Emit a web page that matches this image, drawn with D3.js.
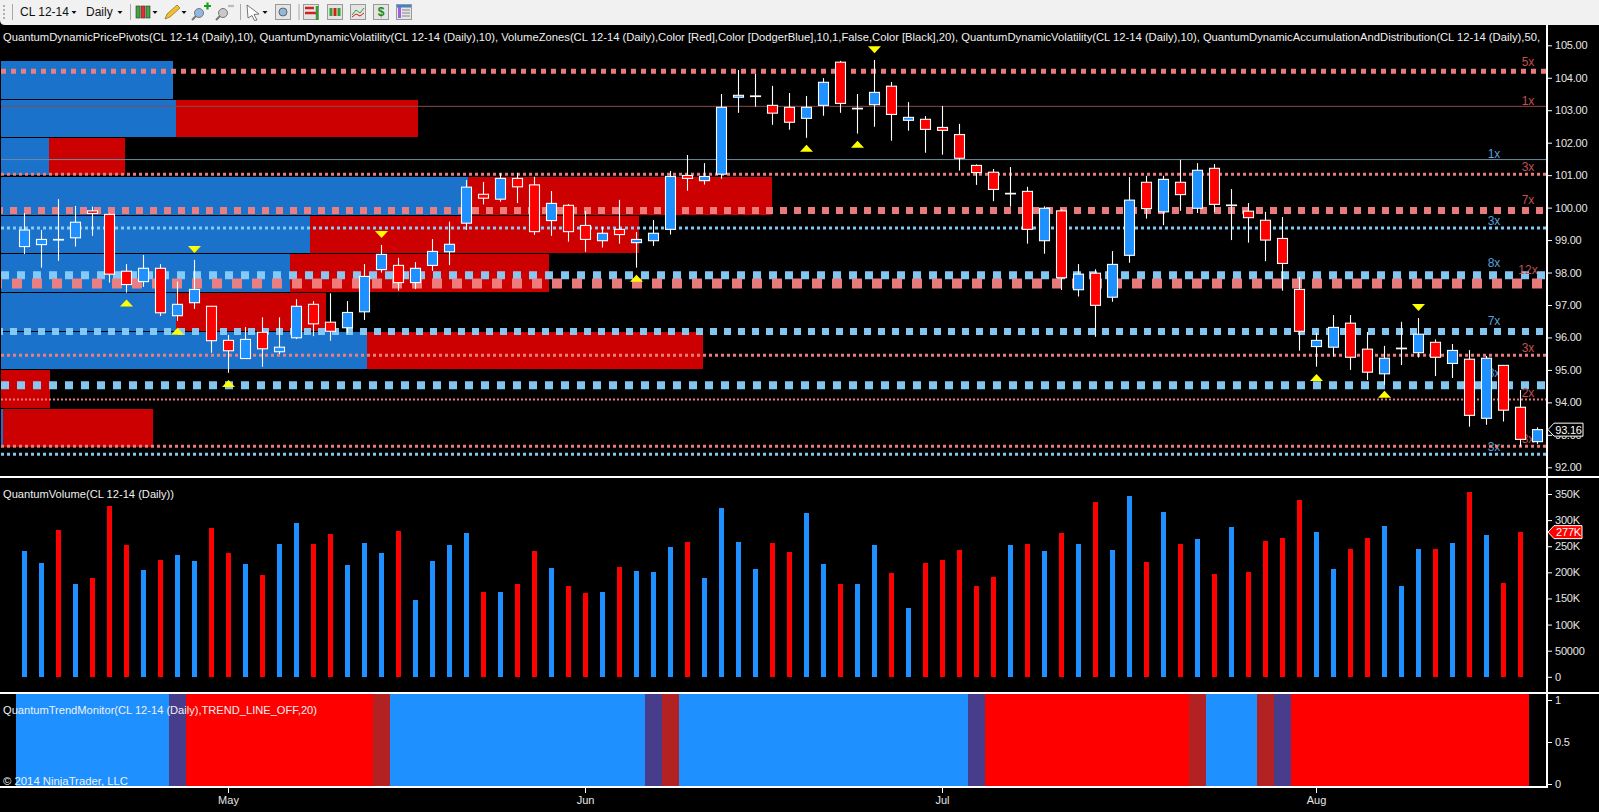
<!DOCTYPE html>
<html><head><meta charset="utf-8">
<script src="https://cdn.jsdelivr.net/npm/d3@7/dist/d3.min.js"></script>
<style>html,body{margin:0;padding:0;background:#000;overflow:hidden}svg{display:block}
text{font-family:"Liberation Sans",Arial,sans-serif}</style></head><body>
<svg id="c" width="1599" height="812"></svg>
<script>
// ---------- data ----------
const opens=[98.80,98.86,99.02,99.07,99.90,99.79,98.04,97.72,98.13,96.67,97.07,96.96,95.91,95.35,96.16,95.56,95.99,97.02,96.47,96.30,96.79,98.09,98.22,97.69,98.22,98.64,99.52,100.41,100.26,100.90,100.70,99.60,100.07,99.45,98.98,99.33,98.92,98.98,99.33,100.99,100.83,101.03,103.40,103.44,103.15,103.09,102.75,103.15,104.48,103.06,103.17,103.74,102.69,102.72,102.47,102.25,101.30,101.09,100.44,100.50,98.98,99.90,97.47,97.98,97.24,98.53,100.78,99.87,100.78,99.98,101.21,100.08,99.89,99.61,99.05,97.48,95.72,95.70,96.44,95.64,94.88,95.67,95.53,95.85,95.20,95.33,93.51,95.14,93.85,92.79];
const closes=[99.31,99.02,99.02,99.55,99.82,97.95,97.63,98.13,96.76,97.02,97.48,95.90,95.59,95.94,95.65,95.70,96.96,96.42,96.19,96.77,97.88,98.56,97.69,98.13,98.65,98.87,100.63,100.29,100.90,100.64,99.26,100.13,99.26,99.02,99.21,99.17,99.02,99.21,100.96,100.90,100.96,103.09,103.46,103.44,102.91,102.63,103.09,103.86,103.21,103.06,103.55,102.87,102.78,102.41,102.38,101.52,101.08,100.56,100.44,99.33,99.98,97.84,97.95,96.99,98.25,100.23,99.97,100.87,100.40,101.15,100.10,100.08,99.69,99.00,98.28,96.19,95.91,96.31,95.39,94.93,95.36,95.67,96.10,95.39,95.60,93.60,95.36,93.76,92.86,93.16];
const highs=[99.83,99.31,100.26,100.05,100.03,99.82,98.26,98.54,98.26,97.72,98.39,96.97,96.08,96.32,96.62,96.62,97.18,97.12,97.36,97.12,98.26,98.85,98.45,98.32,99.03,99.57,100.85,100.79,101.06,101.07,100.95,100.51,100.11,99.90,99.41,100.24,99.25,99.62,101.13,101.62,101.37,103.50,104.24,104.12,103.75,103.53,103.44,103.99,104.52,103.50,104.55,103.87,103.25,102.82,103.13,102.58,101.33,101.19,101.25,100.64,100.04,99.95,98.26,98.10,98.66,100.94,100.98,100.98,101.47,101.37,101.34,100.57,100.14,99.87,99.71,97.86,96.13,96.69,96.69,96.17,95.74,96.48,96.60,95.94,95.80,95.61,95.43,95.15,94.38,93.23];
const lows=[98.57,98.15,98.36,98.80,99.13,97.69,97.38,97.56,96.66,96.51,96.88,95.53,94.91,95.35,95.10,95.49,95.95,96.04,95.90,96.12,96.54,98.00,97.44,97.49,98.05,98.23,99.31,100.10,100.18,100.14,99.16,99.13,98.95,98.64,98.77,98.89,98.15,98.82,99.17,100.52,100.71,100.89,102.92,103.11,102.55,102.40,102.15,102.83,102.92,102.28,102.49,102.06,102.37,101.69,101.63,101.14,100.70,100.20,100.03,98.89,98.58,97.46,97.26,96.02,97.10,98.30,99.66,99.46,99.90,99.83,99.87,99.00,98.92,98.35,97.44,95.59,95.10,95.41,95.00,94.69,94.54,95.15,95.38,94.81,94.75,93.25,93.31,93.41,92.64,92.72];
const volumes=[240,218,281,178,190,327,253,205,224,234,222,285,237,216,194,255,295,255,274,215,257,237,279,148,222,253,276,163,163,178,241,209,173,161,163,211,203,201,249,258,190,323,258,207,257,239,314,216,178,178,253,199,132,218,224,243,173,192,253,255,241,276,255,335,243,346,220,316,255,264,197,287,201,260,266,339,278,207,245,266,289,173,245,245,257,354,272,180,277];
const volumeSide=["B","B","R","B","R","R","R","B","R","B","B","R","R","B","R","B","B","R","R","B","B","B","R","B","B","B","B","R","B","R","R","B","R","R","B","R","B","B","B","R","B","B","B","B","R","R","B","B","R","B","B","R","B","R","R","R","R","R","B","R","B","R","B","R","B","B","R","B","R","B","R","B","R","R","R","R","B","B","R","R","B","B","B","R","B","R","B","R","R"];
// volume zones: price band and cumulative volume of each side
const zoneTop=[104.52,103.32,102.15,100.95,99.74,98.57,97.37,96.16,94.99,93.79];
const zoneBottom=[103.35,102.17,100.99,99.77,98.60,97.39,96.20,95.03,93.83,92.62];
const zoneBlue=[172,175,48,467,309,289,175,366,0,2];
const zoneRed=[0,417,124,771,638,548,325,702,49,152];
// dynamic volatility levels (multiple = number of bars at the level)
const pinkPrices=[104.20,103.12,101.03,99.91,97.66,95.45,94.09,92.65];
const pinkMultiples=[5,1,3,7,12,3,2,3];
const bluePrices=[101.48,99.37,97.92,96.18,94.53,92.40];
const blueMultiples=[1,3,8,7,8,3];
// pivots
const pivotDownIdx=[10,21,50,82], pivotDownPrice=[98.71,99.17,104.86,96.92];
const pivotUpIdx=[6,9,12,36,46,49,76,80], pivotUpPrice=[97.06,96.19,94.58,97.82,101.83,101.95,94.77,94.25];
// trend monitor runs
const trendStates=["up","upEnd","down","downEnd","up","upEnd","downEnd","up","upEnd","down","downEnd","up","downEnd","upEnd","down"];
const trendLengths=[9,1,11,1,15,1,1,17,1,12,1,3,1,1,14];
const priceTicks=[105,104,103,102,101,100,99,98,97,96,95,94,93,92];
const volumeTicks=[0,50,100,150,200,250,300,350];
const trendTicks=[0,0.5,1];
const monthNames=["May","Jun","Jul","Aug"], monthIdx=[12,33,54,76];
const lastPrice=93.16, lastVolume=277;

// ---------- scales ----------
const BLUE="#1E90FF",RED="#FF0000",AXIS=1547;
const svg=d3.select("#c");
const x=d3.scaleLinear([0,88],[24.5,1520.5]);
const yP=d3.scaleLinear([92,105],[467.3,45.3]);
const yV=d3.scaleLinear([0,350],[676.8,494]);
const yT=d3.scaleLinear([0,1],[784,700]);
const xZone=d3.scaleLinear([0,1000],[1,1001]);

// ---------- main panel ----------
const g=svg.append("g");
const zones=zoneTop.map((t,i)=>({t,b:zoneBottom[i],blue:zoneBlue[i],red:zoneRed[i]}));
g.append("g").selectAll("rect").data(zones.filter(z=>z.red>0)).join("rect")
 .attr("x",xZone(0)).attr("width",d=>xZone(d.red)-xZone(0)).attr("y",d=>yP(d.t)).attr("height",d=>yP(d.b)-yP(d.t)).attr("fill","#CC0000").attr("shape-rendering","crispEdges");
g.append("g").selectAll("rect").data(zones.filter(z=>z.blue>0)).join("rect")
 .attr("x",xZone(0)).attr("width",d=>xZone(d.blue)-xZone(0)).attr("y",d=>yP(d.t)).attr("height",d=>yP(d.b)-yP(d.t)).attr("fill","#1A72CB").attr("shape-rendering","crispEdges");

const dashPhase={7:5,12:9};
function levels(prices,mults,color,thin,labelColor,labelX){
  const L=prices.map((p,i)=>({p,m:mults[i]}));
  const gl=g.append("g");
  gl.selectAll("line").data(L).join("line").attr("x1",1).attr("x2",AXIS)
    .attr("y1",d=>yP(d.p)).attr("y2",d=>yP(d.p))
    .attr("stroke",d=>d.m===1?thin:color)
    .attr("stroke-width",d=>d.m===1?1:Math.min(d.m,10))
    .attr("stroke-opacity",d=>d.m===1?1:0.96)
    .attr("stroke-dashoffset",d=>dashPhase[d.m]||0)
    .attr("stroke-dasharray",d=>{if(d.m===1)return null;const s=Math.min(d.m,10);return s+" "+s;});
  gl.selectAll("text").data(L).join("text").attr("x",labelX).attr("y",d=>yP(d.p)-(d.m===1?5.5:(4+Math.min(d.m,10))))
    .attr("fill",labelColor).attr("font-size",12).attr("text-anchor","middle").attr("dominant-baseline","central")
    .text(d=>d.m+"x");
}
levels(bluePrices,blueMultiples,"#87CEFA","#6A8DA3","#5AA0DC",1494);
levels(pinkPrices,pinkMultiples,"#F08080","#8E4A4A","#C25050",1528);

// candles
const candles=opens.map((o,i)=>({i,o,c:closes[i],h:highs[i],l:lows[i]}));
const cg=g.append("g");
cg.selectAll("line").data(candles).join("line")
  .attr("x1",d=>x(d.i)).attr("x2",d=>x(d.i)).attr("y1",d=>yP(d.h)).attr("y2",d=>yP(d.l))
  .attr("stroke","#fff").attr("stroke-width",1.1);
cg.selectAll("rect").data(candles).join("rect")
  .attr("x",d=>x(d.i)-5).attr("width",10)
  .attr("y",d=>yP(Math.max(d.o,d.c))).attr("height",d=>Math.max(Math.abs(yP(d.o)-yP(d.c)),0.6))
  .attr("fill",d=>d.c>d.o?BLUE:d.c<d.o?RED:"#fff").attr("stroke","#fff").attr("stroke-width",1.1);

// pivots
const tri=(i,p,up)=>{const X=x(i),Y=yP(p);return up?`M${X-6.5},${Y+3.5}L${X},${Y-3.5}L${X+6.5},${Y+3.5}Z`:`M${X-6.5},${Y-3.5}L${X},${Y+3.5}L${X+6.5},${Y-3.5}Z`;};
g.append("g").selectAll("path").data(pivotUpIdx.map((v,k)=>tri(v,pivotUpPrice[k],true)).concat(pivotDownIdx.map((v,k)=>tri(v,pivotDownPrice[k],false))))
 .join("path").attr("d",d=>d).attr("fill","#FFFF00");

// price axis
const axStyle=(sel)=>{sel.select(".domain").remove();sel.selectAll("line").attr("stroke","#fff");sel.selectAll("text").attr("fill","#e6e6e6").attr("font-size",11).attr("letter-spacing","-0.2").attr("font-family",'"Liberation Sans",Arial,sans-serif');};
svg.append("g").attr("transform",`translate(${AXIS},0)`).call(d3.axisRight(yP).tickValues(priceTicks).tickSize(5).tickPadding(3).tickFormat(d3.format(".2f"))).call(axStyle);

// ---------- volume panel ----------
svg.append("g").selectAll("rect").data(volumes).join("rect")
  .attr("x",(d,i)=>x(i)-2.5).attr("width",5).attr("y",d=>yV(d)).attr("height",d=>yV(0)-yV(d))
  .attr("fill",(d,i)=>volumeSide[i]==="B"?BLUE:RED).attr("shape-rendering","crispEdges");
svg.append("g").attr("transform",`translate(${AXIS},0)`).call(d3.axisRight(yV).tickValues(volumeTicks).tickSize(5).tickPadding(3).tickFormat(d=>d===0?"0":d===50?"50000":d+"K")).call(axStyle);

// ---------- trend panel ----------
const trendColors={up:BLUE,down:RED,upEnd:"#483D8B",downEnd:"#B22222"};
const runs=[];let pos=0;trendStates.forEach((s,k)=>{runs.push({s,a:pos,n:trendLengths[k]});pos+=trendLengths[k];});
const step=x(1)-x(0);
svg.append("g").selectAll("rect").data(runs).join("rect")
  .attr("x",d=>x(d.a)-step/2).attr("width",d=>d.n*step).attr("y",yT(1)-7).attr("height",yT(0)-yT(1)+9)
  .attr("fill",d=>trendColors[d.s]).attr("shape-rendering","crispEdges");
svg.append("g").attr("transform",`translate(${AXIS},0)`).call(d3.axisRight(yT).tickValues(trendTicks).tickSize(5).tickPadding(3).tickFormat(d=>d)).call(axStyle);

// panel rules
const rule=(x1,y1,x2,y2,w)=>svg.append("line").attr("x1",x1).attr("y1",y1).attr("x2",x2).attr("y2",y2).attr("stroke","#fff").attr("stroke-width",w).attr("shape-rendering","crispEdges");
rule(0,476.5,1599,476.5,2);rule(0,692.5,1599,692.5,2);rule(0,787,AXIS,787,2);rule(AXIS,25,AXIS,788,2);

// month axis
const mg=svg.append("g").selectAll("g").data(monthNames).join("g").attr("transform",(d,i)=>`translate(${x(monthIdx[i])},787)`);
mg.append("line").attr("y2",6).attr("stroke","#fff");
mg.append("text").attr("y",13).attr("text-anchor","middle").attr("dominant-baseline","central").attr("fill","#e6e6e6").attr("font-size",11).text(d=>d);

// titles
const label=(t,X,Y,s,len)=>{const e=svg.append("text").attr("x",X).attr("y",Y).attr("fill","#f0f0f0").attr("font-size",s).attr("dominant-baseline","central").text(t);if(len)e.attr("textLength",len).attr("lengthAdjust","spacingAndGlyphs");return e;};
label("QuantumDynamicPricePivots(CL 12-14 (Daily),10), QuantumDynamicVolatility(CL 12-14 (Daily),10), VolumeZones(CL 12-14 (Daily),Color [Red],Color [DodgerBlue],10,1,False,Color [Black],20), QuantumDynamicVolatility(CL 12-14 (Daily),10), QuantumDynamicAccumulationAndDistribution(CL 12-14 (Daily),50,",3,37,11,1537);
label("QuantumVolume(CL 12-14 (Daily))",3,494,11,171);
label("QuantumTrendMonitor(CL 12-14 (Daily),TREND_LINE_OFF,20)",3,710,11,314);
label("© 2014 NinjaTrader, LLC",3,781,11,125);

// last value callouts
function callout(v,scale,fill,txt,W){const Y=scale(v);
 svg.append("path").attr("d",`M${AXIS+1},${Y}L${AXIS+7},${Y-6.5}H${AXIS+W}V${Y+6.5}H${AXIS+7}Z`).attr("fill",fill).attr("stroke","#fff").attr("stroke-width",1);
 svg.append("text").attr("x",AXIS+21.5).attr("y",Y).attr("fill","#fff").attr("font-size",11).attr("letter-spacing","-0.2").attr("text-anchor","middle").attr("dominant-baseline","central").text(txt);}
callout(lastPrice,yP,"#000",d3.format(".2f")(lastPrice),36);
callout(lastVolume,yV,RED,lastVolume+"K",35);

// ---------- toolbar ----------
const tb=svg.append("g");
tb.append("path").attr("d","M0,0H1599V25H5Q0,25 0,20Z").attr("fill","#F1F1F1");
[5,9,13,17].forEach(Y=>tb.append("rect").attr("x",3).attr("y",Y).attr("width",2).attr("height",2).attr("fill","#B0B0B0"));
[12.5,130.5,240.5,299].forEach(X=>tb.append("line").attr("x1",X).attr("x2",X).attr("y1",4).attr("y2",20).attr("stroke","#A8A8A8"));
tb.append("text").attr("x",20).attr("y",12).attr("font-size",12).attr("fill","#111").attr("dominant-baseline","central").text("CL 12-14");
tb.append("text").attr("x",86).attr("y",12).attr("font-size",12).attr("fill","#111").attr("dominant-baseline","central").text("Daily");
[74,120,155,184,265].forEach(X=>tb.append("path").attr("d",`M${X-2.5},11H${X+2.5}L${X},14Z`).attr("fill","#111"));
// candle icons
[[138,"#3FA83F"],[143,"#E03030"],[148,"#3FA83F"]].forEach(([X,c])=>{tb.append("rect").attr("x",X-2).attr("y",6).attr("width",4).attr("height",12).attr("fill",c).attr("stroke","#333").attr("stroke-width",.6);});
// pencil
tb.append("path").attr("d","M165,19L167,14L177,5L180,8L170,17Z").attr("fill","#F0C030").attr("stroke","#8a6a10").attr("stroke-width",.7);
// magnifiers
[[199,13,"#8FB8E0"],[223,13,"#C8C8C8"]].forEach(([X,Y,c])=>{tb.append("circle").attr("cx",X).attr("cy",Y).attr("r",4.5).attr("fill",c).attr("stroke","#777");tb.append("line").attr("x1",X-3).attr("y1",Y+3).attr("x2",X-7).attr("y2",Y+7).attr("stroke","#777").attr("stroke-width",2);});
tb.append("path").attr("d","M204,6H211M207.5,2.5V9.5").attr("stroke","#18A018").attr("stroke-width",2.2);
tb.append("path").attr("d","M228,6H234").attr("stroke","#bbb").attr("stroke-width",2.2);
// cursor
tb.append("path").attr("d","M247,5L259,14L254,14.5L257,20L254.5,20.5L252,15.5L248,18Z").attr("fill","#fff").attr("stroke","#555").attr("stroke-width",.8);
// boxed tools
[283,311,335,358,381,404].forEach(X=>tb.append("rect").attr("x",X-7.5).attr("y",4.5).attr("width",15).attr("height",15).attr("fill","#E4E4E4").attr("stroke","#999"));
tb.append("circle").attr("cx",283).attr("cy",12).attr("r",4).attr("fill","#8FB8E0").attr("stroke","#666");
tb.append("path").attr("d","M305,8H314M305,13H317").attr("stroke","#D02020").attr("stroke-width",2.5);
tb.append("path").attr("d","M317,6V20").attr("stroke","#30A030").attr("stroke-width",2.5);
[[331,"#30A030"],[335,"#D02020"],[339,"#30A030"]].forEach(([X,c])=>tb.append("rect").attr("x",X-1.5).attr("y",8).attr("width",3).attr("height",8).attr("fill",c));
tb.append("path").attr("d","M352,15L356,10L360,13L364,8").attr("fill","none").attr("stroke","#30A030");
tb.append("path").attr("d","M352,17L356,14L360,16L364,13").attr("fill","none").attr("stroke","#D02020");
tb.append("text").attr("x",381).attr("y",12).attr("font-size",12).attr("font-weight","bold").attr("fill","#1A8A1A").attr("text-anchor","middle").attr("dominant-baseline","central").text("$");
tb.append("rect").attr("x",398).attr("y",7).attr("width",3).attr("height",11).attr("fill","#A060E0");
tb.append("rect").attr("x",397).attr("y",5).attr("width",14).attr("height",2.5).attr("fill","#4080D0");
tb.append("path").attr("d","M402,10H410M402,13H410M402,16H410").attr("stroke","#888");
</script></body></html>
